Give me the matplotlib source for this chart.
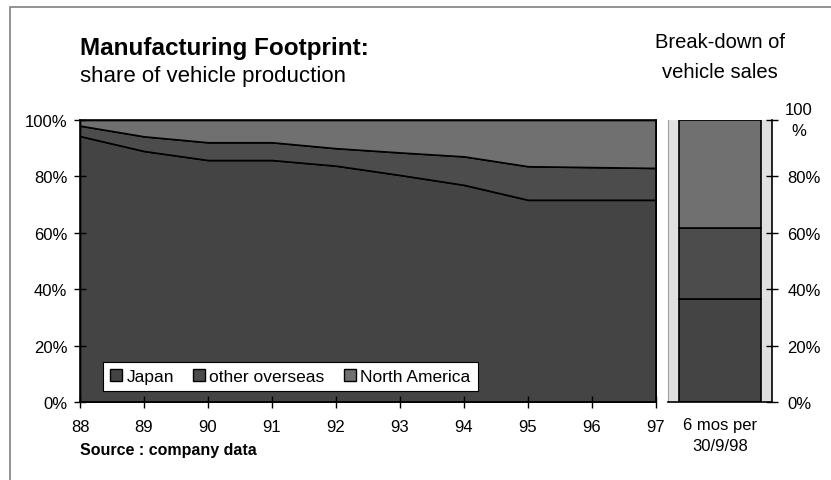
import matplotlib.pyplot as plt
from matplotlib.patches import Rectangle

plt.rcParams['font.family'] = ['Liberation Sans', 'DejaVu Sans']

# share of vehicle production, %
years = [88, 89, 90, 91, 92, 93, 94, 95, 96, 97]
japan = [94.3, 89.0, 85.8, 85.8, 83.8, 80.5, 77.0, 71.7, 71.7, 71.7]
other_overseas = [3.7, 5.2, 6.3, 6.3, 6.2, 8.0, 10.1, 11.9, 11.6, 11.3]
north_america = [100 - a - b for a, b in zip(japan, other_overseas)]

# break-down of vehicle sales, 6 mos per 30/9/98
sales_label = "6 mos per\n30/9/98"
sales_japan = 36.5
sales_other = 25.3
sales_na = 38.2

series_names = ["Japan", "other overseas", "North America"]
colors = ["#444444", "#4c4c4c", "#707070"]

fig = plt.figure(figsize=(8.31, 4.81), dpi=100)

# outer frame
fig.patches.append(Rectangle((10 / 831, -0.1), 1.1, (481 - 8) / 481 + 0.1,
                             transform=fig.transFigure, fill=False,
                             edgecolor="#808080", lw=1.2))

ax = fig.add_axes([80 / 831, 78 / 481, 576 / 831, 282 / 481])
ax.stackplot(years, japan, other_overseas, north_america, colors=colors,
             edgecolor="black", linewidth=1.2, labels=series_names)
ax.set_xlim(88, 97)
ax.set_ylim(0, 100)
ax.set_xticks(years)
ax.set_xticklabels([str(y) for y in years])
ax.set_yticks([0, 20, 40, 60, 80, 100])
ax.set_yticklabels(["0%", "20%", "40%", "60%", "80%", "100%"])
ax.tick_params(direction="inout", length=8, width=1, labelsize=12, pad=5)
ax.tick_params(axis="x", pad=8)
for s in ax.spines.values():
    s.set_color("black")
    s.set_linewidth(1.2)

leg = ax.legend(loc="lower center", bbox_to_anchor=(0.365, 0.039), ncol=3,
                frameon=True, fancybox=False, edgecolor="black",
                facecolor="white", framealpha=1,
                fontsize=12.5, handlelength=0.7, handleheight=0.7,
                handletextpad=0.25, columnspacing=1.1, borderpad=0.4,
                borderaxespad=0)
leg.get_frame().set_linewidth(0.8)
for h in leg.legend_handles:
    h.set_edgecolor("black")
    h.set_linewidth(1)

# right panel: sales break-down
ax2 = fig.add_axes([668 / 831, 78 / 481, 104 / 831, 282 / 481])
ax2.set_facecolor("#e0e0e0")
ax2.bar([0], [sales_japan], width=0.79, color=colors[0], edgecolor="black", lw=1.2)
ax2.bar([0], [sales_other], bottom=[sales_japan], width=0.79, color=colors[1],
        edgecolor="black", lw=1.2)
ax2.bar([0], [sales_na], bottom=[sales_japan + sales_other], width=0.79,
        color=colors[2], edgecolor="black", lw=1.2)
ax2.set_xlim(-0.5, 0.5)
ax2.set_ylim(0, 100)
ax2.set_xticks([0])
ax2.set_xticklabels([sales_label], linespacing=1.45)
ax2.yaxis.tick_right()
ax2.set_yticks([0, 20, 40, 60, 80, 100])
ax2.set_yticklabels(["0%", "20%", "40%", "60%", "80%", ""], ha="left")
ax2.tick_params(axis="y", direction="inout", length=8, width=1, labelsize=12, pad=7)
ax2.tick_params(axis="x", length=0, labelsize=12, pad=11)
ax2.spines["top"].set_visible(False)
ax2.spines["left"].set_color("#a0a0a0")
ax2.spines["right"].set_color("black")
ax2.spines["bottom"].set_color("black")
ax2.spines["right"].set_linewidth(1.2)
ax2.spines["bottom"].set_linewidth(1.2)
# the top label is wrapped onto two lines in the reference
fig.text(799 / 831, 1 - 121 / 481, "100\n%", fontsize=12, ha="center",
         va="center", linespacing=1.5)

fig.text(80 / 831, 1 - 48 / 481, "Manufacturing Footprint:", fontsize=17.5,
         fontweight="bold", va="center", ha="left")
fig.text(80 / 831, 1 - 77 / 481, "share of vehicle production", fontsize=16,
         va="center", ha="left")
fig.text(720 / 831, 1 - 43 / 481, "Break-down of", fontsize=14.5,
         va="center", ha="center")
fig.text(720 / 831, 1 - 73 / 481, "vehicle sales", fontsize=14.5,
         va="center", ha="center")
fig.text(80 / 831, 1 - 450 / 481, "Source : company data", fontsize=11.5,
         fontweight="bold", va="center", ha="left")

fig.savefig("out.png", dpi=100)
